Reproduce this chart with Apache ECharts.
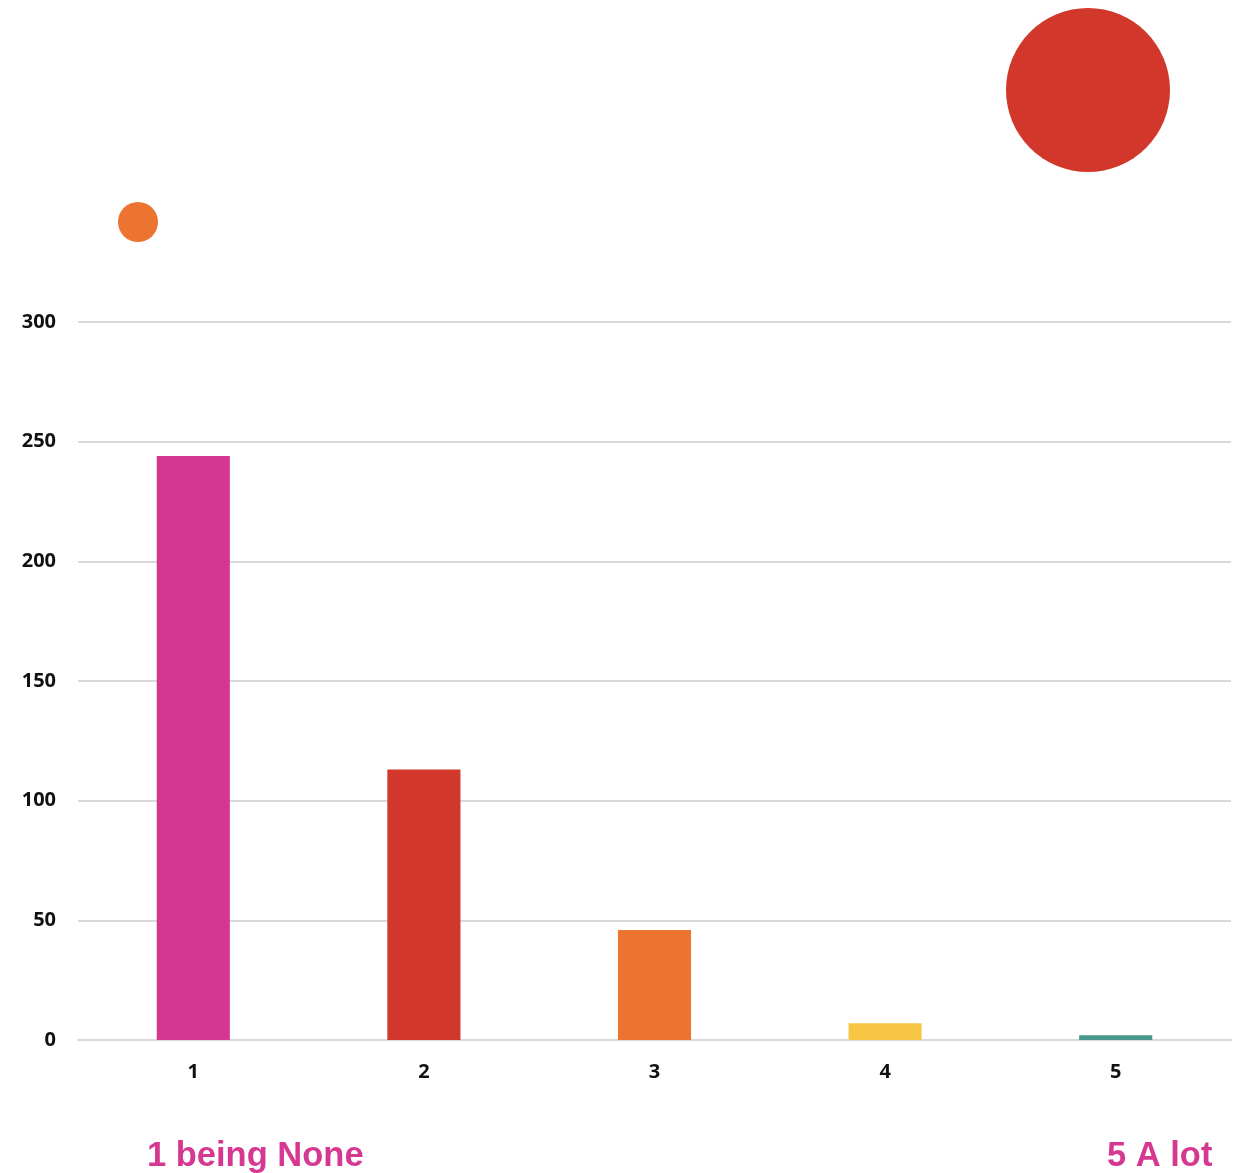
<!DOCTYPE html>
<html><head><meta charset="utf-8">
<script src="https://cdn.jsdelivr.net/npm/echarts@6/dist/echarts.min.js"></script>
<style>html,body{margin:0;padding:0;background:#fff}#c{width:1243px;height:1173px}</style>
</head><body><div id="c"></div>
<script>
const categories = ['1','2','3','4','5'];
const values = [244, 113, 46, 7, 2];
const barColors = ['#D43790','#D2372B','#ED7430','#F6C644','#46978A'];
const yTicks = [0, 50, 100, 150, 200, 250, 300];

const chart = echarts.init(document.getElementById('c'), null, {renderer:'canvas'});
chart.setOption({
  animation: false,
  grid: {left: 78, right: 12, top: 322, bottom: 133, containLabel: false},
  xAxis: {
    type: 'category', data: categories,
    axisLine: {show: true, lineStyle: {color: '#d9d9d9', width: 2}},
    axisTick: {show: false},
    axisLabel: {color: '#111', fontFamily: 'Open Sans', fontWeight: 'bold', fontSize: 20, margin: 22}
  },
  yAxis: {
    type: 'value', min: yTicks[0], max: yTicks[yTicks.length-1], interval: 50,
    axisLine: {show: false}, axisTick: {show: false},
    splitLine: {lineStyle: {color: '#d9d9d9', width: 2}},
    axisLabel: {color: '#111', fontFamily: 'Open Sans', fontWeight: 'bold', fontSize: 20, margin: 22}
  },
  series: [{
    type: 'bar', barWidth: '31.7%',
    data: values.map((v,i)=>({value: v, itemStyle: {color: barColors[i]}}))
  }],
  graphic: [
    {type:'circle', shape:{cx:138, cy:222, r:20}, style:{fill:'#ED7430'}},
    {type:'circle', shape:{cx:1088, cy:90, r:82}, style:{fill:'#D2372B'}},
    {type:'text', left:147, top:1139, style:{text:'1 being None', fill:'#D63891', font:'bold 34.5px "Liberation Sans", Arial, sans-serif'}},
    {type:'text', left:1107, top:1139, style:{text:'5 A lot', fill:'#D63891', font:'bold 34.5px "Liberation Sans", Arial, sans-serif'}}
  ]
});
</script></body></html>
